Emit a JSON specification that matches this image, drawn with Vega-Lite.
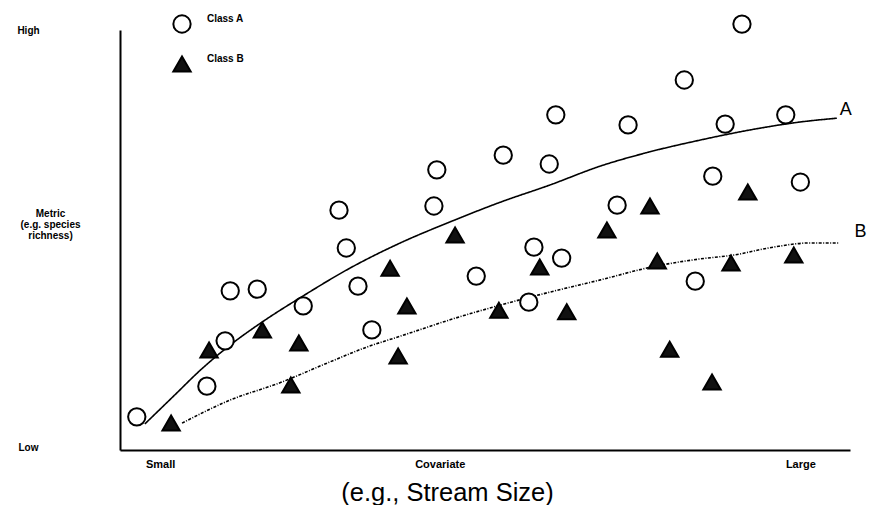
{
  "$schema": "https://vega.github.io/schema/vega-lite/v6.json",
  "width": 730,
  "height": 420,
  "autosize": {"type": "none"},
  "padding": {"left": 120, "top": 30, "right": 23, "bottom": 55},
  "background": "white",
  "config": {
    "view": {"stroke": null},
    "font": "Liberation Sans",
    "axis": {"domainColor": "black", "domainWidth": 2, "ticks": false, "grid": false, "labelColor": "black", "labelFont": "Liberation Sans", "labelFontWeight": "bold", "labelFontSize": 10},
    "legend": {
      "title": null, "orient": "none", "legendX": 52, "legendY": -16,
      "padding": 0, "symbolSize": 300, "symbolStrokeWidth": 2,
      "rowPadding": 15, "labelOffset": 15, "labelFont": "Liberation Sans", "labelFontWeight": "bold",
      "labelFontSize": 10, "labelColor": "black", "labelBaseline": "bottom"
    }
  },
  "datasets": {
    "pts": [
      {"cls": "Class A", "x": 2.3, "y": 7.9},
      {"cls": "Class A", "x": 11.9, "y": 15.2},
      {"cls": "Class A", "x": 14.4, "y": 26.0},
      {"cls": "Class A", "x": 15.1, "y": 37.9},
      {"cls": "Class A", "x": 18.8, "y": 38.3},
      {"cls": "Class A", "x": 25.1, "y": 34.3},
      {"cls": "Class A", "x": 30.0, "y": 57.1},
      {"cls": "Class A", "x": 31.0, "y": 48.1},
      {"cls": "Class A", "x": 32.6, "y": 39.0},
      {"cls": "Class A", "x": 34.5, "y": 28.6},
      {"cls": "Class A", "x": 43.0, "y": 58.1},
      {"cls": "Class A", "x": 43.4, "y": 66.7},
      {"cls": "Class A", "x": 48.8, "y": 41.4},
      {"cls": "Class A", "x": 52.5, "y": 70.2},
      {"cls": "Class A", "x": 56.0, "y": 35.2},
      {"cls": "Class A", "x": 56.7, "y": 48.3},
      {"cls": "Class A", "x": 58.8, "y": 68.1},
      {"cls": "Class A", "x": 59.7, "y": 79.8},
      {"cls": "Class A", "x": 60.5, "y": 45.7},
      {"cls": "Class A", "x": 68.1, "y": 58.3},
      {"cls": "Class A", "x": 69.6, "y": 77.4},
      {"cls": "Class A", "x": 77.3, "y": 88.1},
      {"cls": "Class A", "x": 78.8, "y": 40.2},
      {"cls": "Class A", "x": 81.2, "y": 65.2},
      {"cls": "Class A", "x": 82.9, "y": 77.6},
      {"cls": "Class A", "x": 85.2, "y": 101.4},
      {"cls": "Class A", "x": 91.2, "y": 79.8},
      {"cls": "Class A", "x": 93.2, "y": 63.8},
      {"cls": "Class B", "x": 7.0, "y": 6.4},
      {"cls": "Class B", "x": 12.2, "y": 23.8},
      {"cls": "Class B", "x": 19.5, "y": 28.6},
      {"cls": "Class B", "x": 23.4, "y": 15.5},
      {"cls": "Class B", "x": 24.5, "y": 25.5},
      {"cls": "Class B", "x": 37.0, "y": 43.3},
      {"cls": "Class B", "x": 38.1, "y": 22.4},
      {"cls": "Class B", "x": 39.3, "y": 34.3},
      {"cls": "Class B", "x": 45.9, "y": 51.2},
      {"cls": "Class B", "x": 51.9, "y": 33.3},
      {"cls": "Class B", "x": 57.5, "y": 43.6},
      {"cls": "Class B", "x": 61.2, "y": 32.9},
      {"cls": "Class B", "x": 66.7, "y": 52.4},
      {"cls": "Class B", "x": 72.6, "y": 58.1},
      {"cls": "Class B", "x": 73.6, "y": 45.0},
      {"cls": "Class B", "x": 75.3, "y": 24.0},
      {"cls": "Class B", "x": 81.1, "y": 16.2},
      {"cls": "Class B", "x": 83.7, "y": 44.5},
      {"cls": "Class B", "x": 86.0, "y": 61.4},
      {"cls": "Class B", "x": 92.3, "y": 46.4}
    ],
    "curves": [
      {"s": "A", "x": 3.4, "y": 6.2},
      {"s": "A", "x": 7.5, "y": 13.1},
      {"s": "A", "x": 11.0, "y": 19.0},
      {"s": "A", "x": 15.1, "y": 25.0},
      {"s": "A", "x": 19.5, "y": 30.5},
      {"s": "A", "x": 25.1, "y": 36.7},
      {"s": "A", "x": 31.5, "y": 43.3},
      {"s": "A", "x": 38.4, "y": 49.3},
      {"s": "A", "x": 45.2, "y": 54.3},
      {"s": "A", "x": 52.1, "y": 59.0},
      {"s": "A", "x": 58.9, "y": 63.1},
      {"s": "A", "x": 65.8, "y": 67.6},
      {"s": "A", "x": 72.6, "y": 71.0},
      {"s": "A", "x": 79.5, "y": 73.8},
      {"s": "A", "x": 86.3, "y": 76.2},
      {"s": "A", "x": 93.2, "y": 78.1},
      {"s": "A", "x": 98.2, "y": 79.0},
      {"s": "B", "x": 8.5, "y": 6.4},
      {"s": "B", "x": 15.1, "y": 11.9},
      {"s": "B", "x": 21.9, "y": 16.0},
      {"s": "B", "x": 28.8, "y": 21.0},
      {"s": "B", "x": 33.8, "y": 24.5},
      {"s": "B", "x": 38.4, "y": 27.1},
      {"s": "B", "x": 45.2, "y": 31.0},
      {"s": "B", "x": 52.1, "y": 34.5},
      {"s": "B", "x": 58.9, "y": 37.6},
      {"s": "B", "x": 65.8, "y": 40.5},
      {"s": "B", "x": 72.9, "y": 43.6},
      {"s": "B", "x": 79.5, "y": 45.5},
      {"s": "B", "x": 84.0, "y": 46.4},
      {"s": "B", "x": 89.5, "y": 48.3},
      {"s": "B", "x": 94.5, "y": 49.3},
      {"s": "B", "x": 98.4, "y": 49.3}
    ],
    "labels": [
      {"t": "A", "x": 98.6, "y": 81.0},
      {"t": "B", "x": 100.6, "y": 51.9}
    ]
  },
  "encoding": {
    "x": {
      "field": "x", "type": "quantitative",
      "scale": {"domain": [0, 100], "nice": false, "zero": false},
      "axis": {
        "values": [5.5, 43.8, 93.2],
        "labelExpr": "datum.value < 20 ? 'Small' : datum.value < 60 ? 'Covariate' : 'Large'",
        "labelPadding": 8,
        "labelFontSize": 11,
        "title": "(e.g., Stream Size)",
        "titleFont": "Liberation Sans",
        "titleFontWeight": "normal",
        "titleFontSize": 25.5,
        "titleColor": "black",
        "titleX": 327,
        "titleY": 50,
        "titleBaseline": "alphabetic",
        "titleAnchor": "middle"
      }
    },
    "y": {
      "field": "y", "type": "quantitative",
      "scale": {"domain": [0, 100], "nice": false, "zero": false},
      "axis": {
        "values": [100, 56.4, 0.7],
        "labelExpr": "datum.value > 90 ? 'High' : datum.value > 30 ? ['Metric', '(e.g. species', 'richness)'] : 'Low'",
        "labelAlign": "center",
        "labelBaseline": "middle",
        "labelPadding": {"condition": {"test": "datum.value > 30 && datum.value < 90", "value": 70}, "value": 92},
        "labelFontSize": 10,
        "labelLineHeight": 11,
        "title": null
      }
    }
  },
  "layer": [
    {
      "data": {"name": "curves"},
      "mark": {"type": "line", "color": "black", "strokeWidth": 1.6, "interpolate": "monotone"},
      "encoding": {
        "detail": {"field": "s"},
        "strokeDash": {"field": "s", "type": "nominal", "scale": {"domain": ["A", "B"], "range": [[1, 0], [3, 1.5, 1, 1.5]]}, "legend": null}
      }
    },
    {
      "data": {"name": "pts"},
      "mark": {"type": "point", "filled": false, "strokeWidth": 2, "opacity": 1, "size": 300},
      "encoding": {
        "shape": {
          "field": "cls", "type": "nominal",
          "scale": {"domain": ["Class A", "Class B"], "range": ["circle", "triangle-up"]}
        },
        "fill": {
          "field": "cls", "type": "nominal",
          "scale": {"domain": ["Class A", "Class B"], "range": ["white", "#111111"]}
        },
        "stroke": {
          "field": "cls", "type": "nominal",
          "scale": {"domain": ["Class A", "Class B"], "range": ["black", "black"]}
        }
      }
    },
    {
      "data": {"name": "labels"},
      "mark": {"type": "text", "align": "left", "baseline": "middle", "fontSize": 18, "font": "Liberation Sans", "color": "black"},
      "encoding": {"text": {"field": "t"}}
    }
  ]
}
